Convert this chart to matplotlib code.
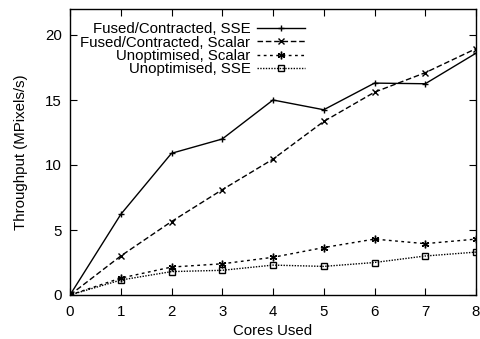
import numpy as np
import matplotlib
matplotlib.use('Agg')
import matplotlib.pyplot as plt

cores = [0, 1, 2, 3, 4, 5, 6, 7, 8]
fusedSSE = [0, 6.2, 10.9, 12.0, 15.0, 14.25, 16.3, 16.25, 18.6]
fusedScalar = [0, 3.0, 5.65, 8.1, 10.45, 13.35, 15.6, 17.1, 18.95]
unoptScalar = [0, 1.3, 2.15, 2.4, 2.9, 3.65, 4.3, 3.95, 4.3]
unoptSSE = [0, 1.15, 1.8, 1.9, 2.3, 2.2, 2.5, 3.0, 3.3]

def main():
	plt.rcParams['font.family'] = 'Liberation Sans'
	plt.rcParams['font.size'] = 10.8
	fig = plt.figure(figsize=(4.8, 3.39), dpi=100)
	ax = fig.add_axes([70/480, 44/339, 406/480, 286/339])

	ax.plot(cores, fusedSSE, color='black', lw=1, ls='-', marker='+', ms=5, mew=1,
		label='Fused/Contracted, SSE')
	ax.plot(cores, fusedScalar, color='black', lw=1, ls=(0, (4, 2)), marker='x', ms=5, mew=1,
		label='Fused/Contracted, Scalar')
	ax.plot(cores, unoptScalar, color='black', lw=1, ls=(0, (2, 2.5)), marker=(6, 2, 0), ms=5.5, mew=1,
		label='Unoptimised, Scalar')
	ax.plot(cores, unoptSSE, color='black', lw=1, ls=(0, (1, 1)), marker='s', ms=4.5, mew=1,
		mfc='none', label='Unoptimised, SSE')

	ax.set_xlim(0, 8)
	ax.set_ylim(0, 22)
	ax.set_xticks(range(0, 9))
	ax.set_yticks([0, 5, 10, 15, 20])
	ax.tick_params(direction='in', top=True, right=True, length=5, width=0.8)
	ax.tick_params(axis='x', pad=7)
	ax.tick_params(axis='y', pad=6)
	for s in ax.spines.values():
		s.set_linewidth(1)
	ax.set_xlabel('Cores Used', labelpad=4)
	ax.set_ylabel('Throughput (MPixels/s)', labelpad=12)

	ax.legend(loc='upper left', bbox_to_anchor=(0.0, 0.99), frameon=False, markerfirst=False,
		handlelength=3.2, labelspacing=-0.05, handletextpad=0.4, borderaxespad=0.3)

	fig.savefig('out.png', dpi=100)

if __name__ == '__main__':
	main()
